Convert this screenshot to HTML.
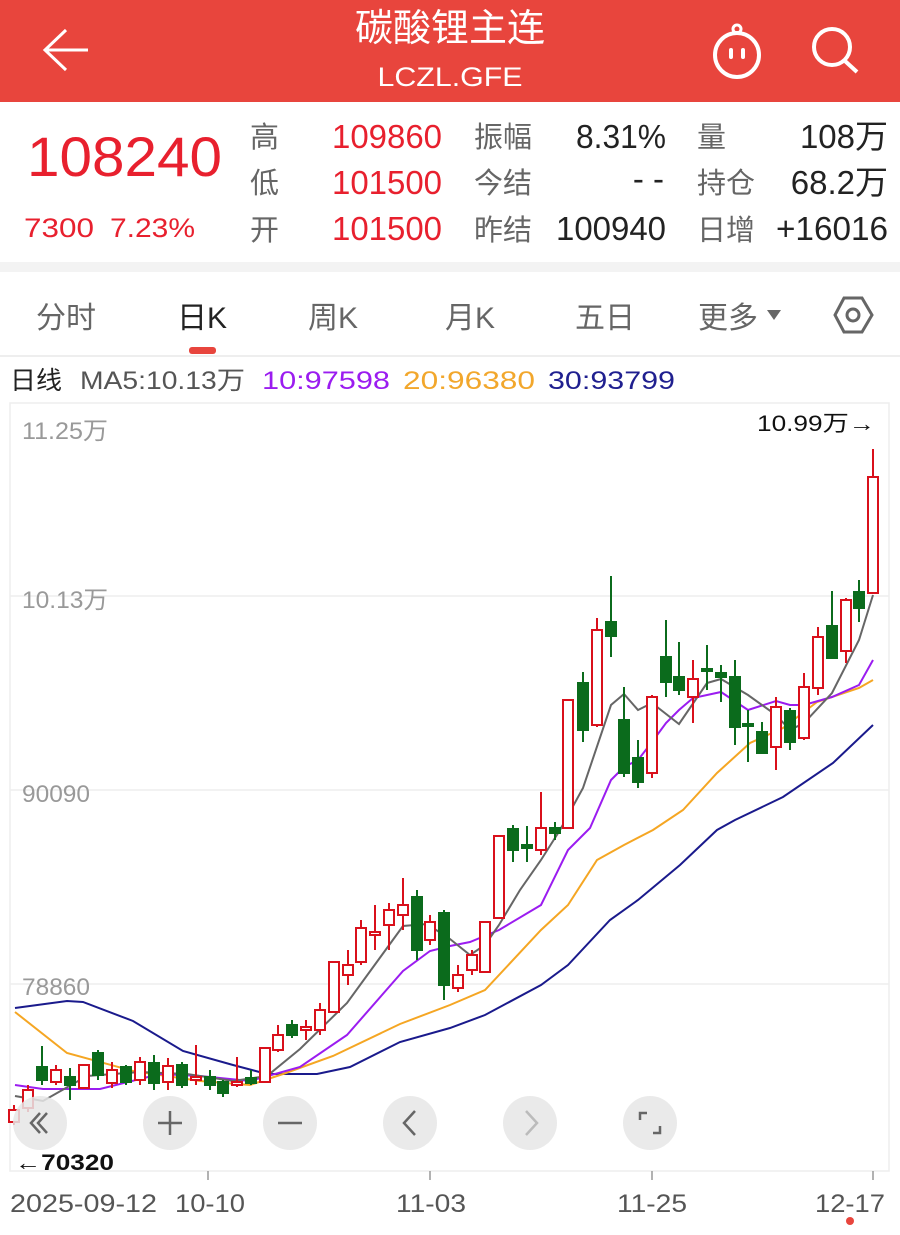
<!DOCTYPE html>
<html><head><meta charset="utf-8"><style>
html,body{margin:0;padding:0;background:#fff;}
svg{display:block;}
text{font-family:"Liberation Sans","Noto Sans CJK SC",sans-serif;}
</style></head><body>
<svg width="900" height="1235" viewBox="0 0 900 1235" xmlns="http://www.w3.org/2000/svg">
<!-- header -->
<rect x="0" y="0" width="900" height="102" fill="#e8453d"/>
<text x="450" y="41" font-size="38" fill="#fff" text-anchor="middle">碳酸锂主连</text>
<text x="450" y="86" font-size="27" fill="#fff" text-anchor="middle" textLength="145" lengthAdjust="spacingAndGlyphs">LCZL.GFE</text>
<path d="M88 50 H46 M66 30 L45 50 L66 70" stroke="#fff" stroke-width="3" fill="none"/>
<circle cx="737" cy="55" r="22" stroke="#fff" stroke-width="4" fill="none"/>
<circle cx="737" cy="29" r="4" stroke="#fff" stroke-width="3" fill="none"/>
<rect x="729" y="48" width="4" height="11" rx="2" fill="#fff"/><rect x="741" y="48" width="4" height="11" rx="2" fill="#fff"/>
<circle cx="832" cy="47" r="18" stroke="#fff" stroke-width="4" fill="none"/>
<path d="M845 61 L857 72" stroke="#fff" stroke-width="4"/>
<!-- info -->
<text x="27" y="176" font-size="56" fill="#e8202e" textLength="195" lengthAdjust="spacingAndGlyphs">108240</text>
<text x="24" y="237" font-size="27" fill="#e8202e" textLength="70" lengthAdjust="spacingAndGlyphs">7300</text>
<text x="110" y="237" font-size="27" fill="#e8202e" textLength="85" lengthAdjust="spacingAndGlyphs">7.23%</text>
<g font-size="29" fill="#666">
<text x="250" y="147">高</text><text x="250" y="193">低</text><text x="250" y="240">开</text>
<text x="474" y="147">振幅</text><text x="474" y="193">今结</text><text x="474" y="240">昨结</text>
<text x="697" y="147">量</text><text x="697" y="193">持仓</text><text x="697" y="240">日增</text>
</g>
<g font-size="33" fill="#e8202e" text-anchor="end">
<text x="442" y="148" textLength="110" lengthAdjust="spacingAndGlyphs">109860</text>
<text x="442" y="194" textLength="110" lengthAdjust="spacingAndGlyphs">101500</text>
<text x="442" y="240" textLength="110" lengthAdjust="spacingAndGlyphs">101500</text>
</g>
<g font-size="33" fill="#222" text-anchor="end">
<text x="666" y="148" textLength="90" lengthAdjust="spacingAndGlyphs">8.31%</text>
<text x="664" y="190">- -</text>
<text x="666" y="240" textLength="110" lengthAdjust="spacingAndGlyphs">100940</text>
<text x="888" y="148">108万</text>
<text x="888" y="194">68.2万</text>
<text x="888" y="240" textLength="112" lengthAdjust="spacingAndGlyphs">+16016</text>
</g>
<rect x="0" y="262" width="900" height="10" fill="#f3f3f3"/>
<!-- tabs -->
<g font-size="30" fill="#666">
<text x="36" y="328">分时</text>
<text x="177" y="328" fill="#222">日K</text>
<text x="308" y="328">周K</text>
<text x="445" y="328">月K</text>
<text x="575" y="328">五日</text>
<text x="698" y="328">更多</text>
</g>
<path d="M767 310 L781 310 L774 320 Z" fill="#666"/>
<rect x="189" y="347" width="27" height="7" rx="3" fill="#e8453d"/>
<path d="M844 298 L862 298 L872 315 L862 332 L844 332 L835 315 Z" stroke="#666" stroke-width="3" fill="none"/>
<circle cx="853" cy="315" r="6" stroke="#666" stroke-width="3" fill="none"/>
<rect x="0" y="355" width="900" height="2" fill="#eee"/>
<g font-size="25">
<text x="10" y="389" fill="#222" textLength="52" lengthAdjust="spacingAndGlyphs">日线</text>
<text x="80" y="389" fill="#555" textLength="165" lengthAdjust="spacingAndGlyphs">MA5:10.13万</text>
<text x="262" y="389" fill="#9b1cf0" textLength="128" lengthAdjust="spacingAndGlyphs">10:97598</text>
<text x="403" y="389" fill="#f2a72c" textLength="132" lengthAdjust="spacingAndGlyphs">20:96380</text>
<text x="548" y="389" fill="#1f1f8f" textLength="127" lengthAdjust="spacingAndGlyphs">30:93799</text>
</g>
<!-- chart frame -->
<rect x="10" y="403" width="879" height="768" fill="none" stroke="#eee" stroke-width="1.5"/>
<g stroke="#eee" stroke-width="1.5">
<line x1="10" y1="596" x2="889" y2="596"/><line x1="10" y1="790" x2="889" y2="790"/><line x1="10" y1="984" x2="889" y2="984"/>
</g>
<g font-size="24" fill="#999">
<text x="22" y="439" textLength="86" lengthAdjust="spacingAndGlyphs">11.25万</text>
<text x="22" y="608" textLength="86" lengthAdjust="spacingAndGlyphs">10.13万</text>
<text x="22" y="802" textLength="68" lengthAdjust="spacingAndGlyphs">90090</text>
<text x="22" y="995" textLength="68" lengthAdjust="spacingAndGlyphs">78860</text>
</g>
<text x="875" y="431" font-size="22" fill="#111" text-anchor="end" textLength="118" lengthAdjust="spacingAndGlyphs">10.99万→</text>
<!-- MA lines -->
<g fill="none" stroke-width="2">
<polyline stroke="#1a1a8c" points="15,1008 67,1001 83,1002 133,1021 183,1051 233,1065 267,1074 317,1074 350,1067 400,1042 450,1028 485,1015 541,985 568,965 610,920 638,900 680,865 717,830 735,820 783,797 833,763 873,725"/>
<polyline stroke="#f5a623" points="15,1012 67,1053 133,1071 200,1081 250,1085 283,1074 333,1056 400,1024 450,1005 485,990 541,930 568,905 597,860 624,845 653,830 683,810 717,773 750,743 783,728 817,702 859,688 873,680"/>
<polyline stroke="#9b1cf0" points="15,1085 43,1089 100,1089 160,1074 200,1076 250,1081 300,1067 347,1035 403,971 430,951 450,946 470,942 499,930 541,905 568,850 590,828 611,780 624,767 638,760 652,742 666,723 679,710 693,698 721,692 748,710 776,701 790,705 804,705 832,697 859,685 873,660"/>
<polyline stroke="#666" points="15,1096 43,1101 87,1076 140,1072 187,1074 233,1081 267,1076 300,1049 347,1003 403,926 427,924 450,939 470,955 485,945 499,925 520,890 541,860 560,830 583,788 611,705 624,694 638,710 652,703 679,724 707,683 721,679 748,695 776,715 790,730 804,723 832,693 859,640 873,595"/>
</g>
<!-- candles -->
<g stroke-width="2">
<g stroke="#d9101b" fill="#fff">
<line x1="14" y1="1105" x2="14" y2="1125"/><rect x="9" y="1110" width="10" height="12"/>
<line x1="28" y1="1085" x2="28" y2="1112"/><rect x="23" y="1090" width="10" height="18"/>
<line x1="56" y1="1065" x2="56" y2="1085"/><rect x="51" y="1070" width="10" height="12"/>
<rect x="79" y="1065" width="10" height="23"/>
<line x1="112" y1="1062" x2="112" y2="1088"/><rect x="107" y="1070" width="10" height="13"/>
<line x1="140" y1="1057" x2="140" y2="1085"/><rect x="135" y="1062" width="10" height="18"/>
<line x1="168" y1="1058" x2="168" y2="1090"/><rect x="163" y="1066" width="10" height="16"/>
<line x1="196" y1="1045" x2="196" y2="1085"/><rect x="191" y="1077" width="10" height="3"/>
<line x1="237" y1="1057" x2="237" y2="1087"/><rect x="232" y="1082" width="10" height="3"/>
<rect x="260" y="1048" width="10" height="34"/>
<line x1="278" y1="1025" x2="278" y2="1052"/><rect x="273" y="1035" width="10" height="15"/>
<line x1="306" y1="1020" x2="306" y2="1040"/><rect x="301" y="1027" width="10" height="3"/>
<line x1="320" y1="1003" x2="320" y2="1035"/><rect x="315" y="1010" width="10" height="20"/>
<rect x="329" y="962" width="10" height="50"/>
<line x1="348" y1="950" x2="348" y2="985"/><rect x="343" y="965" width="10" height="10"/>
<line x1="361" y1="920" x2="361" y2="965"/><rect x="356" y="928" width="10" height="34"/>
<line x1="375" y1="905" x2="375" y2="950"/><rect x="370" y="932" width="10" height="3"/>
<line x1="389" y1="903" x2="389" y2="950"/><rect x="384" y="910" width="10" height="15"/>
<line x1="403" y1="878" x2="403" y2="930"/><rect x="398" y="905" width="10" height="10"/>
<line x1="430" y1="915" x2="430" y2="945"/><rect x="425" y="922" width="10" height="18"/>
<line x1="458" y1="965" x2="458" y2="992"/><rect x="453" y="975" width="10" height="13"/>
<line x1="472" y1="950" x2="472" y2="975"/><rect x="467" y="955" width="10" height="15"/>
<rect x="480" y="922" width="10" height="50"/>
<rect x="494" y="836" width="10" height="82"/>
<line x1="541" y1="792" x2="541" y2="855"/><rect x="536" y="828" width="10" height="22"/>
<rect x="563" y="700" width="10" height="128"/>
<line x1="597" y1="618" x2="597" y2="727"/><rect x="592" y="630" width="10" height="95"/>
<line x1="652" y1="695" x2="652" y2="778"/><rect x="647" y="697" width="10" height="76"/>
<line x1="693" y1="660" x2="693" y2="723"/><rect x="688" y="679" width="10" height="18"/>
<line x1="776" y1="697" x2="776" y2="770"/><rect x="771" y="707" width="10" height="40"/>
<line x1="804" y1="673" x2="804" y2="740"/><rect x="799" y="687" width="10" height="51"/>
<line x1="818" y1="627" x2="818" y2="695"/><rect x="813" y="637" width="10" height="51"/>
<line x1="846" y1="598" x2="846" y2="663"/><rect x="841" y="600" width="10" height="51"/>
<line x1="873" y1="449" x2="873" y2="593"/><rect x="868" y="477" width="10" height="116"/>
</g>
<g stroke="#0b6b1c" fill="#0b6b1c">
<line x1="42" y1="1046" x2="42" y2="1085"/><rect x="37" y="1067" width="10" height="13"/>
<line x1="70" y1="1068" x2="70" y2="1100"/><rect x="65" y="1077" width="10" height="8"/>
<line x1="98" y1="1050" x2="98" y2="1080"/><rect x="93" y="1053" width="10" height="22"/>
<line x1="126" y1="1065" x2="126" y2="1085"/><rect x="121" y="1067" width="10" height="15"/>
<line x1="154" y1="1055" x2="154" y2="1090"/><rect x="149" y="1063" width="10" height="20"/>
<line x1="182" y1="1062" x2="182" y2="1088"/><rect x="177" y="1065" width="10" height="20"/>
<line x1="210" y1="1070" x2="210" y2="1090"/><rect x="205" y="1077" width="10" height="8"/>
<line x1="223" y1="1080" x2="223" y2="1097"/><rect x="218" y="1082" width="10" height="11"/>
<line x1="251" y1="1070" x2="251" y2="1085"/><rect x="246" y="1078" width="10" height="5"/>
<line x1="292" y1="1020" x2="292" y2="1038"/><rect x="287" y="1025" width="10" height="10"/>
<line x1="417" y1="890" x2="417" y2="960"/><rect x="412" y="897" width="10" height="53"/>
<line x1="444" y1="910" x2="444" y2="1000"/><rect x="439" y="913" width="10" height="72"/>
<line x1="513" y1="825" x2="513" y2="862"/><rect x="508" y="829" width="10" height="21"/>
<line x1="527" y1="826" x2="527" y2="862"/><rect x="522" y="845" width="10" height="3"/>
<line x1="555" y1="822" x2="555" y2="840"/><rect x="550" y="828" width="10" height="5"/>
<line x1="583" y1="672" x2="583" y2="742"/><rect x="578" y="683" width="10" height="47"/>
<line x1="611" y1="576" x2="611" y2="657"/><rect x="606" y="622" width="10" height="14"/>
<line x1="624" y1="687" x2="624" y2="777"/><rect x="619" y="720" width="10" height="53"/>
<line x1="638" y1="740" x2="638" y2="788"/><rect x="633" y="758" width="10" height="24"/>
<line x1="666" y1="620" x2="666" y2="697"/><rect x="661" y="657" width="10" height="25"/>
<line x1="679" y1="642" x2="679" y2="695"/><rect x="674" y="677" width="10" height="13"/>
<line x1="707" y1="645" x2="707" y2="690"/><rect x="702" y="669" width="10" height="2"/>
<line x1="721" y1="665" x2="721" y2="702"/><rect x="716" y="673" width="10" height="4"/>
<line x1="735" y1="660" x2="735" y2="745"/><rect x="730" y="677" width="10" height="50"/>
<line x1="748" y1="710" x2="748" y2="762"/><rect x="743" y="724" width="10" height="2"/>
<line x1="762" y1="722" x2="762" y2="753"/><rect x="757" y="732" width="10" height="21"/>
<line x1="790" y1="708" x2="790" y2="750"/><rect x="785" y="711" width="10" height="31"/>
<line x1="832" y1="591" x2="832" y2="659"/><rect x="827" y="626" width="10" height="32"/>
<line x1="859" y1="580" x2="859" y2="622"/><rect x="854" y="592" width="10" height="16"/>
</g>
</g>
<!-- buttons -->
<g fill="#e6e6e6" fill-opacity="0.85">
<circle cx="40" cy="1123" r="27"/><circle cx="170" cy="1123" r="27"/><circle cx="290" cy="1123" r="27"/>
<circle cx="410" cy="1123" r="27"/><circle cx="530" cy="1123" r="27"/><circle cx="650" cy="1123" r="27"/>
</g>
<g stroke="#666" stroke-width="2.5" fill="none">
<path d="M40 1113 L31 1123 L40 1133 M47 1113 L38 1123 L47 1133"/>
<path d="M158 1123 H182 M170 1111 V1135"/>
<path d="M278 1123 H302"/>
<path d="M415 1111 L404 1123 L415 1135"/>
<path d="M526 1111 L537 1123 L526 1135" stroke="#bbb"/>
<path d="M640 1120 V1113 H647 M660 1126 V1133 H653"/>
</g>
<text x="15" y="1170" font-size="22" font-weight="bold" fill="#111" textLength="99" lengthAdjust="spacingAndGlyphs">←70320</text>
<!-- x axis -->
<g stroke="#999" stroke-width="1.5">
<line x1="208" y1="1171" x2="208" y2="1180"/><line x1="430" y1="1171" x2="430" y2="1180"/>
<line x1="652" y1="1171" x2="652" y2="1180"/><line x1="873" y1="1171" x2="873" y2="1180"/>
</g>
<g font-size="25" fill="#555">
<text x="10" y="1212" textLength="147" lengthAdjust="spacingAndGlyphs">2025-09-12</text>
<text x="175" y="1212" textLength="70" lengthAdjust="spacingAndGlyphs">10-10</text>
<text x="396" y="1212" textLength="70" lengthAdjust="spacingAndGlyphs">11-03</text>
<text x="617" y="1212" textLength="70" lengthAdjust="spacingAndGlyphs">11-25</text>
<text x="815" y="1212" textLength="70" lengthAdjust="spacingAndGlyphs">12-17</text>
</g>
<circle cx="850" cy="1221" r="4" fill="#e8453d"/>
</svg>
</body></html>
